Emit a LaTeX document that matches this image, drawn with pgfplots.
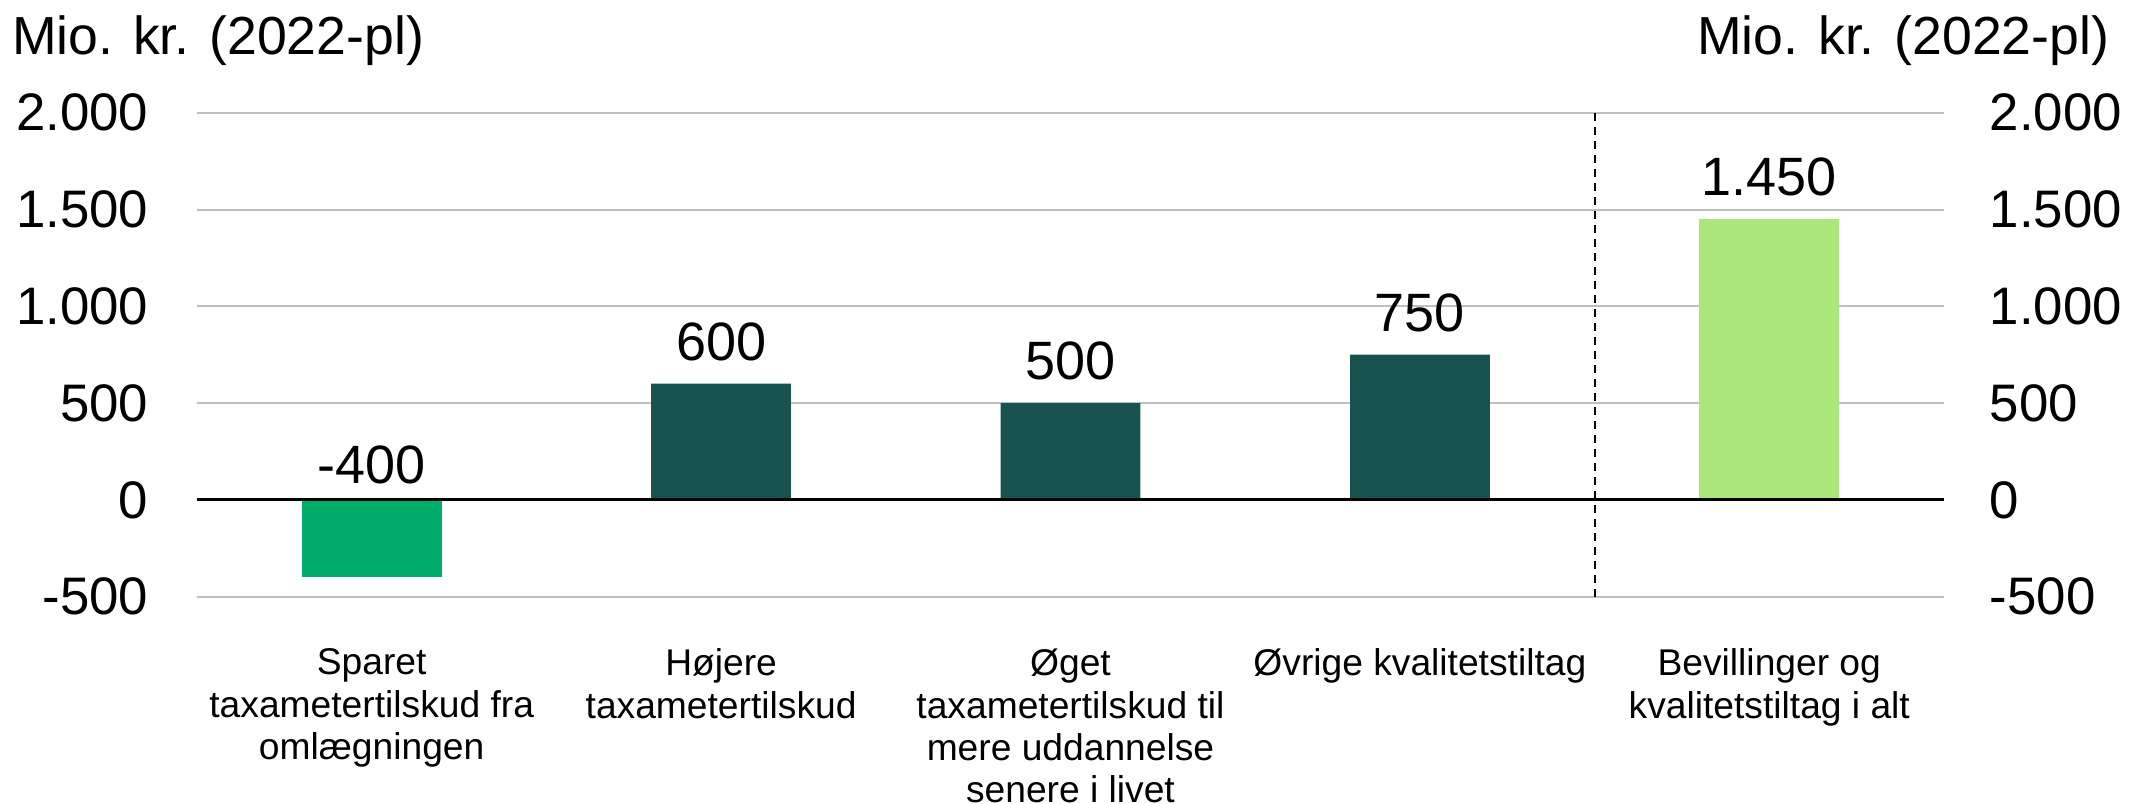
\documentclass[border=0pt]{standalone}
\usepackage{fontspec}
\setmainfont{Liberation Sans}
\usepackage{pgfplots}
\pgfplotsset{compat=1.18}
\definecolor{cGreen}{RGB}{0,173,107}
\definecolor{cDark}{RGB}{24,82,78}
\definecolor{cLight}{RGB}{170,230,122}
\definecolor{cGrid}{RGB}{191,191,191}
\begin{document}
\begin{tikzpicture}
\pgfplotsset{
 base/.style={
  at={(49.25pt,-149.15pt)}, anchor=south west,
  scale only axis, width=436.75pt, height=120.95pt,
  xmin=-0.5, xmax=4.5, ymin=-500, ymax=2000,
  ytick={-500,0,500,1000,1500,2000},
  yticklabels={-500,0,500,1.000,1.500,2.000},
  major tick length=0pt,
  tick label style={font=\fontsize{13.2}{15}\selectfont},
 }
}
\begin{axis}[base,
  axis line style={draw=none},
  ymajorgrids, grid style={cGrid, line width=0.5pt},
  yticklabel style={anchor=east, inner sep=0pt, xshift=-12pt},
  xtick={0,...,4},
  xticklabels={{Sparet\\taxametertilskud fra\\omlægningen},{Højere\\taxametertilskud},{Øget\\taxametertilskud til\\mere uddannelse\\senere i livet},{Øvrige kvalitetstiltag},{Bevillinger og\\kvalitetstiltag i alt}},
  xticklabel style={anchor=north, inner sep=0pt, yshift=-12.9pt, align=center, font=\fontsize{9.3}{10.6}\selectfont},
  clip=false,
]
\addplot[ybar, bar width=0.4, bar shift=0pt, fill=cGreen, draw=none] coordinates {(0,-400)};
\addplot[ybar, bar width=0.4, bar shift=0pt, fill=cDark, draw=none] coordinates {(1,600) (2,500) (3,750)};
\addplot[ybar, bar width=0.4, bar shift=0pt, fill=cLight, draw=none] coordinates {(4,1450)};
\addplot[black, line width=0.75pt] coordinates {(-0.5,0) (4.5,0)};
\addplot[black, line width=0.5pt, dash pattern=on 2pt off 1.5pt] coordinates {(3.5,-500) (3.5,2000)};
\addplot[draw=none, mark=none, nodes near coords, point meta=explicit symbolic,
  nodes near coords style={anchor=south, inner sep=0pt, yshift=5.5pt, font=\fontsize{13.5}{15}\selectfont, text=black}]
  coordinates {(1,600)[600] (2,500)[500] (3,750)[750] (4,1450)[1.450]};
\addplot[draw=none, mark=none, nodes near coords, point meta=explicit symbolic,
  nodes near coords style={anchor=south, inner sep=0pt, yshift=3.75pt, font=\fontsize{13.5}{15}\selectfont, text=black}]
  coordinates {(0,0)[-400]};
\end{axis}
\begin{axis}[base,
  axis y line*=right, axis line style={draw=none},
  hide x axis,
  yticklabel style={anchor=west, inner sep=0pt, xshift=11.25pt},
]
\addplot[draw=none] coordinates {(0,0)};
\end{axis}
\node[anchor=base west, inner sep=0pt, font=\fontsize{13.4}{15}\selectfont] at (2.8pt,-13.6pt) {Mio. kr. (2022-pl)};
\node[anchor=base east, inner sep=0pt, font=\fontsize{13.4}{15}\selectfont] at (527.5pt,-13.6pt) {Mio. kr. (2022-pl)};
\pgfresetboundingbox
\useasboundingbox (0,0) rectangle (536.25pt,-201pt);
\end{tikzpicture}
\end{document}
